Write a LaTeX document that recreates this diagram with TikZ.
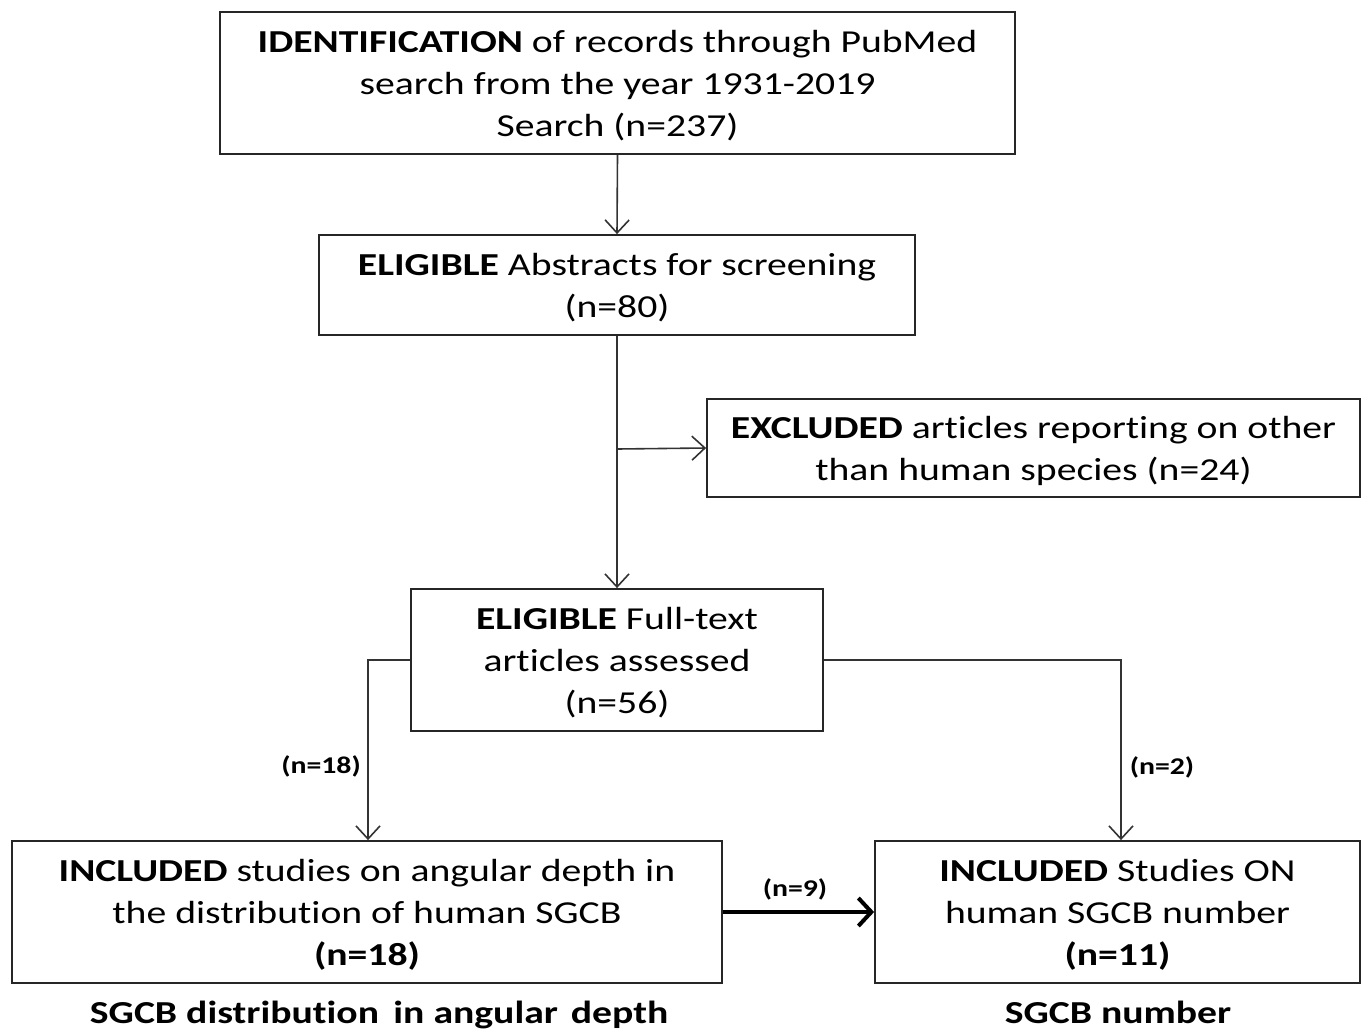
\documentclass[tikz,border=0pt]{standalone}
\usepackage{fontspec}
\setmainfont{Carlito}[FakeStretch=1.24,Ligatures=NoCommon]
\usetikzlibrary{arrows.meta}
\begin{document}
\begin{tikzpicture}[x=1pt,y=-1pt,
  box/.style={draw=black!85,line width=1.8pt,align=center,inner sep=0pt,text depth=0pt,
    font=\fontsize{32}{42}\selectfont},
  conn/.style={draw=black!80,line width=1.6pt,-{Straight Barb[length=13pt,width=24pt,line width=1.6pt]}},
  thick conn/.style={draw=black,line width=4pt,-{Straight Barb[length=13pt,width=28pt,line width=4pt]}},
  lab/.style={font=\bfseries\fontsize{24}{28}\selectfont,inner sep=0pt},
  bottomlab/.style={font=\bfseries\fontsize{32}{40}\selectfont,inner sep=0pt,anchor=base}]
\useasboundingbox (0,0) rectangle (1361,1029);
\node[box,minimum width=795,minimum height=142] (b1) at (617.5,83)
  {\textbf{IDENTIFICATION} of records through PubMed\\search from the year 1931-2019\\Search (n=237)};
\node[box,minimum width=596,minimum height=100] (b2) at (617,285)
  {\textbf{ELIGIBLE} Abstracts for screening\\(n=80)};
\node[box,minimum width=653,minimum height=98] (b3) at (1033.5,448)
  {\textbf{EXCLUDED} articles reporting on other\\than human species (n=24)};
\node[box,minimum width=412,minimum height=142] (b4) at (617,660)
  {\textbf{ELIGIBLE} Full-text\\articles assessed\\(n=56)};
\node[box,minimum width=710,minimum height=142] (b5) at (367,912)
  {\textbf{INCLUDED} studies on angular depth in\\the distribution of human SGCB\\\textbf{(n=18)}};
\node[box,minimum width=485,minimum height=142] (b6) at (1117.5,912)
  {\textbf{INCLUDED} Studies ON\\human SGCB number\\\textbf{(n=11)}};
\coordinate (br) at (617,449);
\draw[conn] (b1.south) -- (b2.north);
\draw[conn] (b2.south) -- (b4.north);
\draw[conn] (br) -- (b3.west);
\draw[conn] (b4.west) -| ([xshift=1]b5.north);
\draw[conn] (b4.east) -| ([xshift=3.5]b6.north);
\draw[thick conn] (b5.east) -- (b6.west);
\node[lab] (l18) at (321,766) {(n=18)};
\node[lab] (l2) at (1162,767) {(n=2)};
\node[lab] (l9) at (795,889) {(n=9)};
\node[bottomlab] (s1) at (379,1023) {SGCB distribution\hspace{0.45em}in angular\hspace{0.4em}depth};
\node[bottomlab] (s2) at (1118,1023) {SGCB number};
\end{tikzpicture}
\end{document}
